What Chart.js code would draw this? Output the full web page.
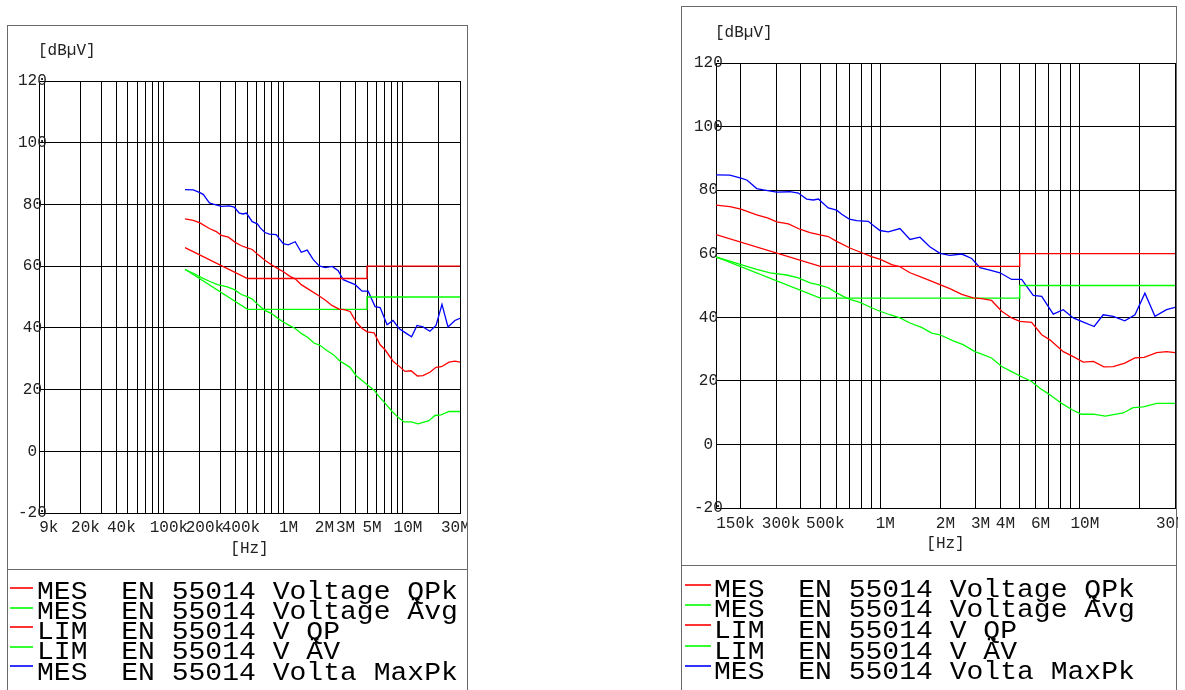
<!DOCTYPE html>
<html><head><meta charset="utf-8">
<script src="https://cdn.jsdelivr.net/npm/chart.js@4/dist/chart.umd.min.js"></script>
<style>
html,body{margin:0;padding:0;background:#fff;width:1185px;height:690px;overflow:hidden;position:relative;font-family:"Liberation Mono",monospace;}
canvas{position:absolute;top:0;}
.frame{position:absolute;border:1px solid #6a6a6a;height:720px;}
.sep{position:absolute;height:0;border-top:1px solid #6a6a6a;}
.unit{position:absolute;font-size:16px;line-height:16px;white-space:pre;color:#222;}
.lg{position:absolute;white-space:pre;font-size:25px;line-height:20px;transform:scaleX(1.122);transform-origin:0 0;color:#000;}
.mk{position:absolute;height:2px;opacity:0.8;}
</style></head>
<body>
<canvas id="cL" width="468" height="690" style="left:0;width:468px;height:690px"></canvas>
<canvas id="cR" width="497" height="690" style="left:681px;width:497px;height:690px"></canvas>
<div class="frame" style="left:7px;top:25px;width:459px;"></div>
<div class="sep" style="left:7px;top:569px;width:461px;"></div>
<div class="frame" style="left:681px;top:6px;width:494px;"></div>
<div class="sep" style="left:681px;top:565px;width:496px;"></div>
<div class="unit" style="left:38px;top:43px;">[dBµV]</div>
<div class="unit" style="left:715px;top:25px;">[dBµV]</div>
<div id="legends"></div>
<script>
// ---- data (frequencies in Hz, levels in dBµV) ----
const freqQPk = [150e3,176e3,200e3,240e3,274e3,302e3,346e3,395e3,444e3,498e3,548e3,604e3,704e3,806e3,904e3,1.0e6,1.14e6,1.254e6,1.408e6,1.64e6,1.99e6,2.23e6,2.56e6,2.92e6,3.22e6,3.61e6,4.06e6,4.55e6,5.01e6,5.73e6,6.44e6,7.08e6,8.26e6,9.27e6,10.4e6,11.7e6,13.2e6,14.7e6,16.8e6,18.9e6,21.0e6,24.3e6,27.2e6,30e6];
const valQPk = [75.3,74.8,74.0,72.2,71.2,70.0,69.4,67.7,66.6,65.9,65.4,63.9,61.8,60.3,59.1,58.2,56.6,55.9,54.0,52.4,50.3,49.0,47.2,46.1,45.9,45.3,41.9,39.8,38.7,38.4,34.5,32.9,29.2,27.6,25.9,26.1,24.4,24.5,25.6,27.2,27.4,28.9,29.2,28.9];

const freqAvg = [150e3,176e3,206e3,240e3,280e3,339e3,388e3,444e3,498e3,548e3,604e3,652e3,704e3,790e3,904e3,996e3,1.117e6,1.254e6,1.408e6,1.61e6,1.81e6,1.99e6,2.32e6,2.60e6,2.98e6,3.22e6,3.61e6,4.06e6,4.55e6,5.11e6,5.73e6,6.31e6,7.08e6,8.11e6,9.10e6,10.2e6,11.7e6,13.4e6,16.5e6,18.5e6,20.8e6,24.3e6,30e6];
const valAvg = [58.9,57.7,56.3,55.1,54.0,53.3,52.4,50.8,50.1,49.3,47.7,46.6,45.6,44.7,43.0,41.9,40.8,39.8,38.2,36.8,35.0,34.5,32.6,31.4,29.2,28.4,27.2,24.5,22.9,21.3,19.8,17.7,15.6,12.9,11.0,9.5,9.5,8.9,9.9,11.6,11.8,12.9,12.9];

const freqLimQP = [150e3,500e3,5e6,5e6,30e6];
const valLimQP = [66,56,56,60,60];
const freqLimAV = [150e3,500e3,5e6,5e6,30e6];
const valLimAV = [59,46,46,50,50];

const freqMaxPk = [150e3,176e3,200e3,214e3,226e3,240e3,259e3,302e3,352e3,388e3,427e3,461e3,489e3,548e3,604e3,640e3,699e3,761e3,870e3,922e3,996e3,1.096e6,1.254e6,1.408e6,1.58e6,1.77e6,1.99e6,2.23e6,2.56e6,2.87e6,3.16e6,3.54e6,3.98e6,4.55e6,5.11e6,5.84e6,6.44e6,7.36e6,8.26e6,9.27e6,10.2e6,11.8e6,13.1e6,14.7e6,16.8e6,18.9e6,21.2e6,23.8e6,27.2e6,30e6];
const valMaxPk = [84.8,84.7,83.8,83.2,81.9,80.5,80.1,79.4,79.5,79.1,77.2,76.9,77.2,74.4,73.7,72.4,70.9,70.4,70.2,68.9,67.3,66.9,67.9,64.5,65.2,62.2,60.1,59.5,59.9,58.5,55.6,54.8,54.0,51.9,51.9,46.9,46.6,41.0,42.4,39.8,38.7,37.1,40.8,40.3,38.9,40.8,47.6,40.3,42.4,43.1];

const seriesNames = ['MES  EN 55014 Voltage QPk','MES  EN 55014 Voltage Ävg','LIM  EN 55014 V QP','LIM  EN 55014 V ÄV','MES  EN 55014 Volta MaxPk'];
const seriesColors = ['#ff0000','#00ff00','#ff0000','#00ff00','#0000ff'];

const leftTickValues = [9e3,20e3,40e3,100e3,200e3,400e3,1e6,2e6,3e6,5e6,10e6,30e6];
const leftTickLabels = ['9k','20k','40k','100k','200k','400k','1M','2M','3M','5M','10M','30M'];
const rightTickValues = [150e3,300e3,500e3,1e6,2e6,3e6,4e6,6e6,10e6,30e6];
const rightTickLabels = ['150k','300k','500k','1M','2M','3M','4M','6M','10M','30M'];
const yMin = -20, yMax = 120, yStep = 20;
const xUnit = '[Hz]';

// ---- helpers ----
const pts = (f, v) => f.map((x, i) => ({x: x, y: v[i]}));
const seriesData = [pts(freqQPk,valQPk), pts(freqAvg,valAvg), pts(freqLimQP,valLimQP), pts(freqLimAV,valLimAV), pts(freqMaxPk,valMaxPk)];

function gridValues(min, max) {
  const out = [min];
  for (let d = 1e3; d <= 1e8; d *= 10) {
    for (let m = 1; m <= 9; m++) {
      const v = m * d;
      if (v > min * 1.0001 && v < max * 0.9999) out.push(v);
    }
  }
  out.push(max);
  return out;
}

Chart.defaults.font.family = '"Liberation Mono", monospace';

function build(id, c) {
  const grid = gridValues(c.xmin, c.xmax);
  const tickFont = {family: '"Liberation Mono", monospace', size: 16};
  return new Chart(document.getElementById(id), {
    type: 'line',
    data: {datasets: seriesData.map((d, i) => ({
      label: seriesNames[i], data: d, borderColor: seriesColors[i], backgroundColor: seriesColors[i],
      borderWidth: 1.3, pointRadius: 0, fill: false, tension: 0
    }))},
    options: {
      responsive: false, animation: false, devicePixelRatio: 1,
      layout: {padding: c.pad},
      plugins: {legend: {display: false}, tooltip: {enabled: false}, title: {display: false}},
      scales: {
        x: {
          type: 'logarithmic', min: c.xmin, max: c.xmax, bounds: 'data',
          afterBuildTicks: s => { s.min = c.xmin; s.max = c.xmax; s.ticks = grid.map(v => ({value: v})); },
          afterFit: s => { s.height = 50; s.paddingLeft = 0; s.paddingRight = 0; },
          grid: {color: '#000', lineWidth: 1, drawTicks: false},
          border: {color: '#000', width: 1},
          ticks: {
            autoSkip: false, maxRotation: 0, minRotation: 0, padding: c.xPad, labelOffset: 5,
            color: '#222', font: tickFont,
            callback: (v) => {
              const i = c.tv.findIndex(t => Math.abs(t - v) / t < 1e-6);
              if (i < 0) return '';
              let s = c.tl[i];
              if (i === 0) s = ' '.repeat(s.length - 1) + s;
              if (i === c.tl.length - 1) s = s + '  ';
              return s;
            }
          },
          title: {display: true, text: xUnit, color: '#222', font: tickFont, padding: {top: 0, bottom: 5}}
        },
        y: {
          type: 'linear', min: yMin, max: yMax,
          afterFit: s => { s.width = 30; s.paddingTop = 0; s.paddingBottom = 0; },
          grid: {color: '#000', lineWidth: 1, drawTicks: false},
          border: {color: '#000', width: 1},
          ticks: {stepSize: yStep, mirror: true, crossAlign: 'center', padding: c.yPad, color: '#222', font: tickFont}
        }
      }
    }
  });
}

build('cL', {xmin: 9e3, xmax: 30e6, tv: leftTickValues, tl: leftTickLabels,
  pad: {left: 9, right: 8, top: 81, bottom: 127}, xPad: 5, yPad: -21});
build('cR', {xmin: 150e3, xmax: 30e6, tv: rightTickValues, tl: rightTickLabels,
  pad: {left: 5, right: 3, top: 63, bottom: 132}, xPad: 6, yPad: -22});

// ---- legends ----
const lg = document.getElementById('legends');
function legend(textLeft, textTop, textStep, mkLeft, mkWidth, mkTop, mkStep) {
  seriesNames.forEach((n, i) => {
    const m = document.createElement('div');
    m.className = 'mk';
    m.style.cssText = `left:${mkLeft}px;top:${Math.round(mkTop + i * mkStep)}px;width:${mkWidth}px;background:${seriesColors[i]}`;
    lg.appendChild(m);
    const t = document.createElement('div');
    t.className = 'lg';
    t.style.left = textLeft + 'px';
    t.style.top = (textTop + i * textStep) + 'px';
    t.textContent = n;
    lg.appendChild(t);
  });
}
legend(37, 582.5, 20.3, 10, 23, 587, 19.5);
legend(714, 580.8, 20.6, 685, 26, 584, 20.2);
</script>
</body></html>
